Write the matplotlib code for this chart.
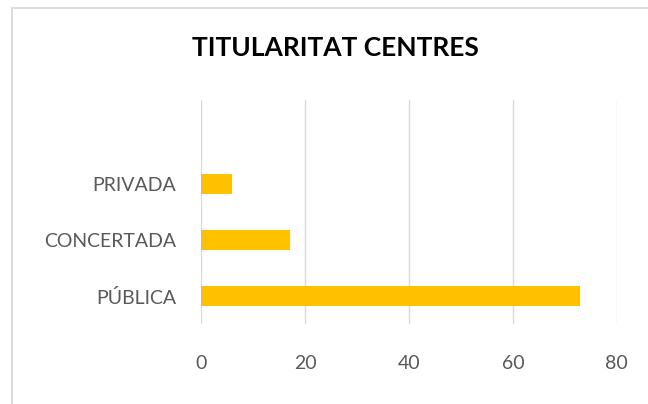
import matplotlib
matplotlib.use("Agg")
import matplotlib.pyplot as plt
from matplotlib.patches import Rectangle

# Chart data
categories = ["PÚBLICA", "CONCERTADA", "PRIVADA"]
values = [73, 17, 6]
x_ticks = [0, 20, 40, 60, 80]
title = "TITULARITAT CENTRES"

plt.rcParams['font.family'] = ['Lato', 'DejaVu Sans']

fig = plt.figure(figsize=(6.48, 4.04), dpi=100)
ax = fig.add_axes([0.3107, 0.198, 0.641, 0.5545])

positions = list(range(len(categories)))
ax.barh(positions, values, height=0.35, color='#FFC000', zorder=3)

ax.set_xlim(0, 80)
ax.set_ylim(-0.5, 3.5)
ax.set_xticks(x_ticks)
ax.set_yticks(positions)
ax.set_yticklabels(categories)
ax.grid(True, axis='x', color='#D9D9D9', linewidth=1.0, zorder=0)
ax.tick_params(axis='both', length=0, labelsize=14, colors='#595959')
ax.tick_params(axis='x', pad=22)
ax.tick_params(axis='y', pad=18)
for spine in ax.spines.values():
    spine.set_visible(False)

fig.text(0.518, 0.882, title, ha='center', va='center',
         fontsize=19, fontweight='bold', color='black')

# Chart-area border (runs off the right and bottom edges)
fig.patches.append(Rectangle((12 / 648, -0.1), 1.2, 1 - 8 / 404 + 0.1,
                             transform=fig.transFigure, fill=False,
                             edgecolor='#D9D9D9', linewidth=1.3))

plt.savefig("out.png", dpi=100)
plt.close()
